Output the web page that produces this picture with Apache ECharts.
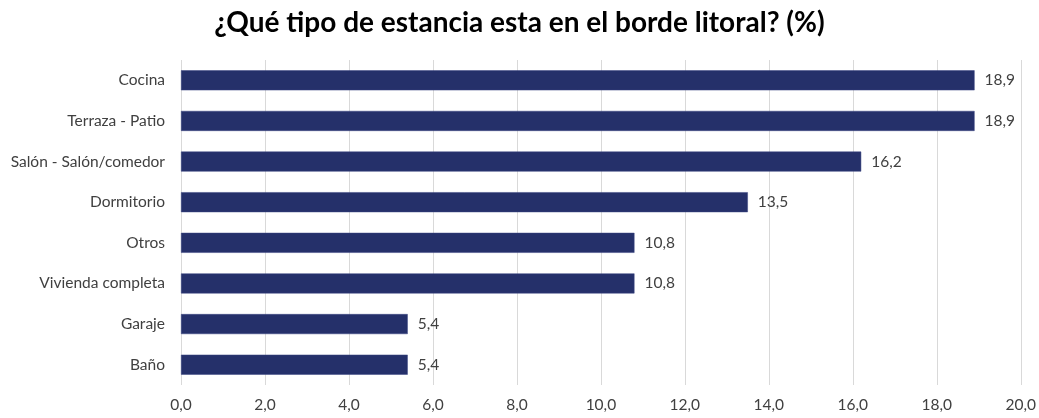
<!DOCTYPE html>
<html>
<head>
<meta charset="utf-8">
<script src="https://cdn.jsdelivr.net/npm/echarts@6/dist/echarts.min.js"></script>
<style>html,body{margin:0;padding:0;background:#fff}#c{width:1039px;height:418px}</style>
</head>
<body>
<div id="c"></div>
<script>
const categories = ["Cocina", "Terraza - Patio", "Salón - Salón/comedor", "Dormitorio", "Otros", "Vivienda completa", "Garaje", "Baño"];
const values = [18.9, 18.9, 16.2, 13.5, 10.8, 10.8, 5.4, 5.4];
const titleText = "¿Qué tipo de estancia esta en el borde litoral? (%)";

const fmt = v => v.toFixed(1).replace('.', ',');
const chart = echarts.init(document.getElementById('c'));
chart.setOption({
  animation: false,
  title: {
    text: titleText, left: 'center', top: 4,
    textStyle: { fontFamily: 'Lato', fontWeight: 'bold', fontSize: 28, color: '#000' }
  },
  grid: { left: 181, right: 18, top: 60, bottom: 33 },
  xAxis: {
    type: 'value', min: 0, max: 20, interval: 2,
    axisLine: { show: false }, axisTick: { show: false },
    splitLine: { lineStyle: { color: '#d9d9d9', width: 1 } },
    axisLabel: { formatter: v => fmt(v), color: '#404040', fontSize: 15.5, fontFamily: 'Lato', margin: 12 }
  },
  yAxis: {
    type: 'category', data: categories, inverse: true,
    axisLine: { show: false }, axisTick: { show: false },
    axisLabel: { color: '#404040', fontSize: 15.5, fontFamily: 'Lato', margin: 16 }
  },
  series: [{
    type: 'bar', data: values, barWidth: 20,
    itemStyle: { color: '#25306a', borderColor: '#3a4580', borderWidth: 0.5 },
    label: { show: true, position: 'right', distance: 10, formatter: p => fmt(p.value), color: '#404040', fontSize: 15.5, fontFamily: 'Lato' }
  }]
});
</script>
</body>
</html>
